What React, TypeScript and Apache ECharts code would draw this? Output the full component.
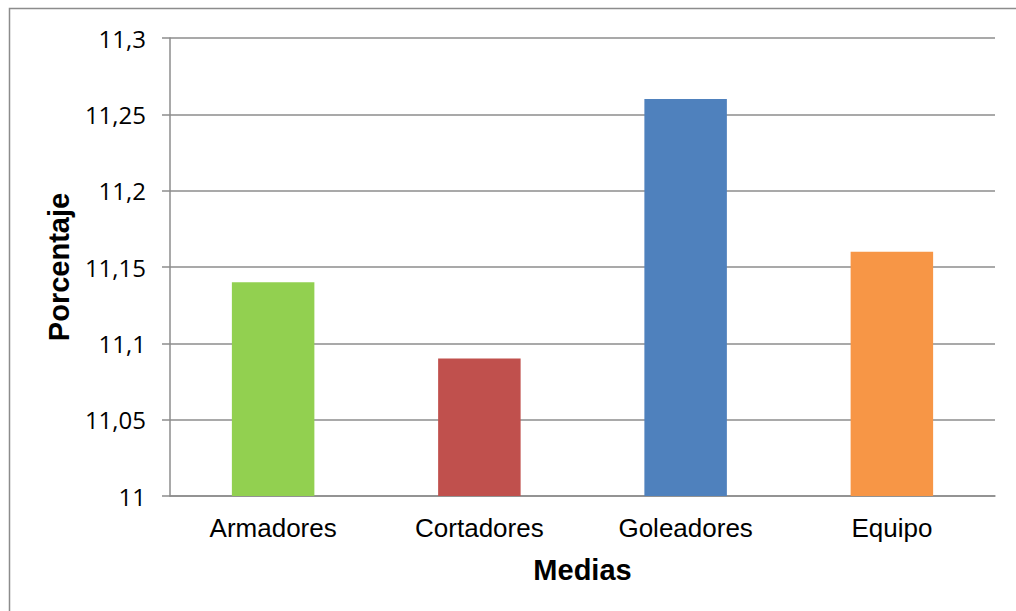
import React, { useEffect, useRef } from "react";
import * as echarts from "echarts";

const categories = ["Armadores", "Cortadores", "Goleadores", "Equipo"];
const values = [11.14, 11.09, 11.26, 11.16];
const barColors = ["#92D050", "#C0504D", "#4F81BD", "#F79646"];
const yMin = 11;
const yMax = 11.3;
const yStep = 0.05;

const formatTick = (v: number) => String(+v.toFixed(2)).replace(".", ",");

export default function App() {
  const ref = useRef<HTMLDivElement>(null);

  useEffect(() => {
    if (!ref.current) return;
    const chart = echarts.init(ref.current, undefined, { renderer: "svg" });
    chart.setOption({
      animation: false,
      backgroundColor: "#ffffff",
      graphic: [
        {
          type: "rect",
          shape: { x: 9.5, y: 8.5, width: 1100, height: 700 },
          style: { fill: "none", stroke: "#8c8c8c", lineWidth: 1.5 },
          silent: true,
        },
      ],
      grid: { left: 170, right: 21, top: 38, bottom: 115, containLabel: false },
      xAxis: {
        type: "category",
        data: categories,
        name: "Medias",
        nameLocation: "middle",
        nameGap: 59,
        nameTextStyle: {
          fontFamily: "Liberation Sans",
          fontWeight: "bold",
          fontSize: 29,
          color: "#000",
        },
        axisLine: { show: true, lineStyle: { color: "#8c8c8c", width: 1.5 } },
        axisTick: { show: false },
        axisLabel: {
          fontFamily: "Liberation Sans",
          fontSize: 26,
          color: "#000",
          margin: 19,
        },
      },
      yAxis: {
        type: "value",
        min: yMin,
        max: yMax,
        interval: yStep,
        name: "Porcentaje",
        nameLocation: "middle",
        nameGap: 94,
        nameTextStyle: {
          fontFamily: "Liberation Sans",
          fontWeight: "bold",
          fontSize: 29,
          color: "#000",
        },
        axisLine: { show: true, lineStyle: { color: "#8c8c8c", width: 1.5 } },
        axisTick: { show: true, length: 8, lineStyle: { color: "#8c8c8c", width: 1.5 } },
        splitLine: { show: true, lineStyle: { color: "#8c8c8c", width: 1.5 } },
        axisLabel: {
          fontFamily: "Open Sans",
          fontSize: 24,
          color: "#000",
          margin: 24,
          formatter: (v: number) => formatTick(v),
        },
      },
      series: [
        {
          type: "bar",
          barWidth: "40%",
          data: values.map((v, i) => ({ value: v, itemStyle: { color: barColors[i] } })),
        },
      ],
    });
    return () => chart.dispose();
  }, []);

  return (
    <div
      ref={ref}
      style={{ position: "fixed", left: 0, top: 0, width: 1016, height: 611 }}
    />
  );
}
